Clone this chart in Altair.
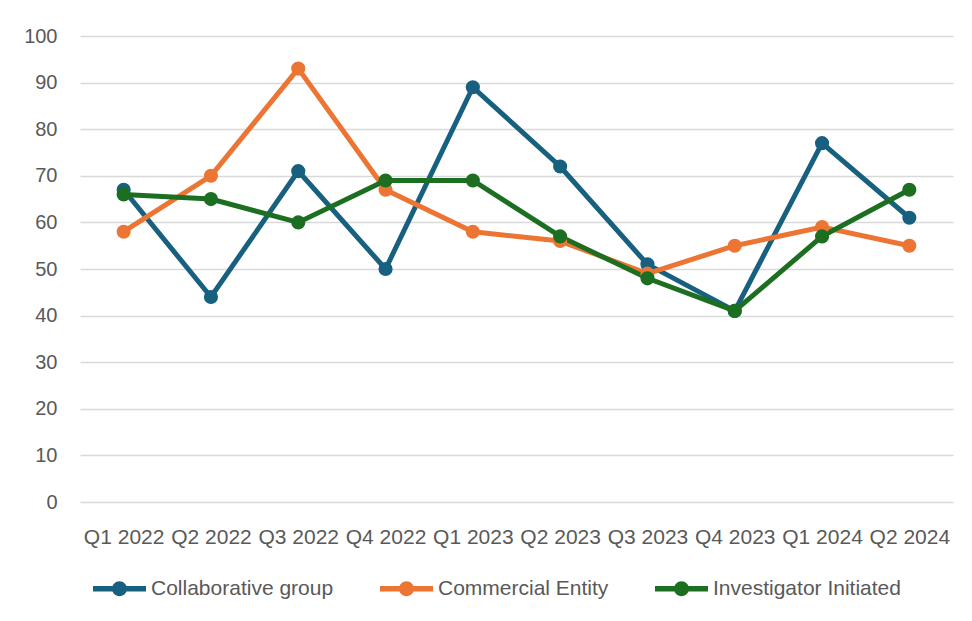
import altair as alt
import pandas as pd

quarters = ["Q1 2022", "Q2 2022", "Q3 2022", "Q4 2022", "Q1 2023",
            "Q2 2023", "Q3 2023", "Q4 2023", "Q1 2024", "Q2 2024"]
collaborative = [67, 44, 71, 50, 89, 72, 51, 41, 77, 61]
commercial = [58, 70, 93, 67, 58, 56, 49, 55, 59, 55]
investigator = [66, 65, 60, 69, 69, 57, 48, 41, 57, 67]
series_names = ["Collaborative group", "Commercial Entity", "Investigator Initiated"]
series_colors = ["#17607F", "#EC7534", "#1C6E21"]

rows = []
for name, vals in zip(series_names, [collaborative, commercial, investigator]):
    for q, v in zip(quarters, vals):
        rows.append({"Quarter": q, "Series": name, "Value": v})
df = pd.DataFrame(rows)

FONT = "Liberation Sans"
TXT = "#595959"

legend_path = ("M-1,-0.1L-0.25,-0.1L-0.25,0.1L-1,0.1Z "
               "M0.25,-0.1L1,-0.1L1,0.1L0.25,0.1Z "
               "M0.28,0A0.28,0.28,0,1,1,-0.28,0A0.28,0.28,0,1,1,0.28,0Z")

x = alt.X("Quarter:N", sort=quarters, title=None,
          scale=alt.Scale(type="point", padding=0.5),
          axis=alt.Axis(labelAngle=0, ticks=False, domain=False, grid=False,
                        labelPadding=24, labelFontSize=21, labelFont=FONT,
                        labelColor=TXT))
y = alt.Y("Value:Q", title=None,
          scale=alt.Scale(domain=[0, 100], nice=False, zero=True),
          axis=alt.Axis(values=list(range(0, 101, 10)), ticks=False, domain=False,
                        grid=True, gridColor="#D9D9D9", gridWidth=1.5,
                        labelPadding=23, labelFontSize=20, labelFont=FONT,
                        labelColor=TXT))
color = alt.Color("Series:N", title=None,
                  scale=alt.Scale(domain=series_names, range=series_colors),
                  legend=alt.Legend(orient="none", direction="horizontal",
                                    legendX=13, legendY=526,
                                    symbolType=legend_path, symbolSize=2809,
                                    symbolStrokeWidth=0, labelFontSize=21,
                                    labelFont=FONT, labelColor=TXT,
                                    labelOffset=5, columnPadding=46,
                                    labelLimit=400))

base = alt.Chart(df).encode(x=x, y=y, color=color)
lines = base.mark_line(strokeWidth=5)
points = base.mark_point(filled=True, size=200, opacity=1)

chart = alt.layer(lines, points).properties(
    width=873, height=466,
    autosize=alt.AutoSizeParams(type="none"),
    padding={"left": 72, "top": 28, "right": 11, "bottom": 111},
).configure_view(stroke=None)

chart.save("out.html", embed_options={"renderer": "svg", "actions": False})
